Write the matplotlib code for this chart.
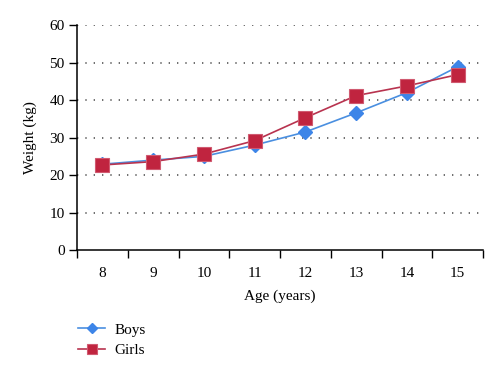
import numpy as np
import matplotlib
matplotlib.use('Agg')
import matplotlib.pyplot as plt

ages = ['8', '9', '10', '11', '12', '13', '14', '15']
boys = [22.9, 24.0, 25.0, 28.0, 31.5, 36.6, 42.0, 48.9]
girls = [22.7, 23.6, 25.6, 29.2, 35.3, 41.2, 43.8, 46.8]

plt.rcParams['font.family'] = ['Liberation Serif', 'DejaVu Serif']

fig = plt.figure(figsize=(5, 3.76), dpi=100)
ax = fig.add_axes([0.154, 0.335, 0.812, 0.598])

x = np.arange(len(ages))
lb, = ax.plot(x, boys, color='#4a8fe0', lw=1.2, marker='D', ms=7,
              mfc='#3d85e8', mec='#3d85e8', label='Boys')
lg, = ax.plot(x, girls, color='#b8334f', lw=1.2, marker='s', ms=9.5,
              mfc='#c0243f', mec='#d05a70', mew=0.8, label='Girls')

ax.set_xlim(-0.5, len(ages) - 0.5)
ax.set_ylim(0, 60)
ax.set_yticks(range(0, 61, 10))
for yv in range(10, 61, 10):
    ax.axhline(yv, color='#555555', lw=1.2, ls=(0, (0.8, 4.2)), zorder=0)

ax.set_xticks(np.arange(-0.5, len(ages), 1))
ax.set_xticklabels([])
ax.set_xticks(x, minor=True)
ax.set_xticklabels(ages, minor=True)
ax.tick_params(axis='x', which='minor', length=0, pad=12, labelsize=11)
ax.tick_params(axis='x', which='major', length=6, width=1, direction='out')
ax.tick_params(axis='y', length=6, width=1, direction='out', labelsize=11, pad=3)

for s in ['top', 'right']:
    ax.spines[s].set_visible(False)
ax.spines['left'].set_linewidth(1.1)
ax.spines['bottom'].set_linewidth(1.1)

ax.set_xlabel('Age (years)', fontsize=11, labelpad=7)
ax.set_ylabel('Weight (kg)', fontsize=11, labelpad=9)

fig.legend(handles=[lb, lg], loc='upper left', bbox_to_anchor=(0.128, 0.178),
           frameon=False, fontsize=11, handlelength=1.8, handletextpad=0.6,
           labelspacing=0.45, markerscale=0.75)

fig.savefig('out.png', dpi=100)
